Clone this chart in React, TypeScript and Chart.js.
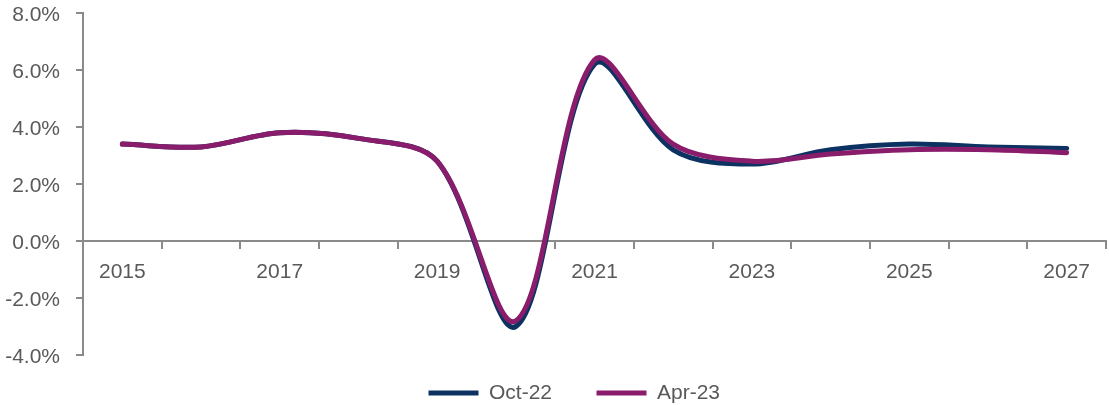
import React, { useEffect, useRef } from 'react';
import { Chart, registerables } from 'chart.js';

Chart.register(...registerables);

const years = ['2015', '2016', '2017', '2018', '2019', '2020', '2021', '2022', '2023', '2024', '2025', '2026', '2027'];
const oct22 = [3.4, 3.3, 3.8, 3.6, 2.8, -3.0, 6.2, 3.2, 2.7, 3.2, 3.4, 3.3, 3.25];
const apr23 = [3.4, 3.3, 3.8, 3.6, 2.8, -2.8, 6.35, 3.4, 2.8, 3.05, 3.2, 3.2, 3.1];
const seriesNames = ['Oct-22', 'Apr-23'];
const yMin = -4;
const yMax = 8;
const yStep = 2;

const FONT = '"Liberation Sans", Arial, Helvetica, sans-serif';
const AXIS = '#8a8a8a';
const TEXT = '#595959';
const NAVY = '#0c3262';
const PURPLE = '#8a1c6c';

const legendPlace = {
  id: 'legendPlace',
  afterLayout(chart: any) {
    const lg = chart.legend;
    if (!lg) return;
    lg.left = 384;
    lg.right = 1109;
    lg.top = 338;
    lg.bottom = 405;
  },
};

export default function App() {
  const ref = useRef<HTMLCanvasElement>(null);

  useEffect(() => {
    if (!ref.current) return;
    const chart = new Chart(ref.current, {
      type: 'line',
      data: {
        labels: years,
        datasets: [
          {
            label: seriesNames[0],
            data: oct22,
            borderColor: NAVY,
            backgroundColor: NAVY,
            borderWidth: 5,
            borderCapStyle: 'round',
            pointRadius: 0,
            tension: 0.33,
            fill: false,
            order: 2,
          },
          {
            label: seriesNames[1],
            data: apr23,
            borderColor: PURPLE,
            backgroundColor: PURPLE,
            borderWidth: 5,
            borderCapStyle: 'round',
            pointRadius: 0,
            tension: 0.33,
            fill: false,
            order: 1,
          },
        ],
      },
      options: {
        responsive: false,
        animation: false,
        devicePixelRatio: 1,
        layout: { padding: { top: 13, right: 3, left: 0, bottom: 0 } },
        plugins: {
          tooltip: { enabled: false },
          legend: {
            position: 'bottom',
            align: 'start',
            maxHeight: 50,
            labels: {
              usePointStyle: true,
              pointStyle: 'line',
              pointStyleWidth: 50,
              padding: 44.5,
              color: TEXT,
              font: { family: FONT, size: 21 },
              sort: (a: any, b: any) => a.datasetIndex - b.datasetIndex,
            },
          },
        },
        scales: {
          x: {
            type: 'category',
            position: { y: 0 } as any,
            offset: true,
            grid: {
              display: true,
              drawOnChartArea: false,
              drawTicks: true,
              tickLength: 7,
              offset: true,
              color: AXIS,
              lineWidth: 2,
            },
            border: { display: true, color: AXIS, width: 2 },
            ticks: {
              autoSkip: false,
              maxRotation: 0,
              padding: 12,
              color: TEXT,
              font: { family: FONT, size: 21 },
              callback: (_v: any, i: number) => (i % 2 === 0 ? years[i] : ''),
            },
          },
          y: {
            min: yMin,
            max: yMax,
            afterFit: (s: any) => {
              s.width = 83;
              s.paddingTop = 0;
              s.paddingBottom = 0;
            },
            grid: {
              display: true,
              drawOnChartArea: false,
              drawTicks: true,
              tickLength: 7,
              color: AXIS,
              lineWidth: 2,
            },
            border: { display: true, color: AXIS, width: 2 },
            ticks: {
              stepSize: yStep,
              padding: 16,
              labelOffset: 2,
              color: TEXT,
              font: { family: FONT, size: 21 },
              callback: (v: any) => Number(v).toFixed(1) + '%',
            },
          },
        },
      },
      plugins: [legendPlace],
    });
    return () => chart.destroy();
  }, []);

  return (
    <div style={{ position: 'absolute', left: 0, top: 0, width: 1109, height: 405, background: '#fff' }}>
      <canvas ref={ref} width={1109} height={405} />
    </div>
  );
}
